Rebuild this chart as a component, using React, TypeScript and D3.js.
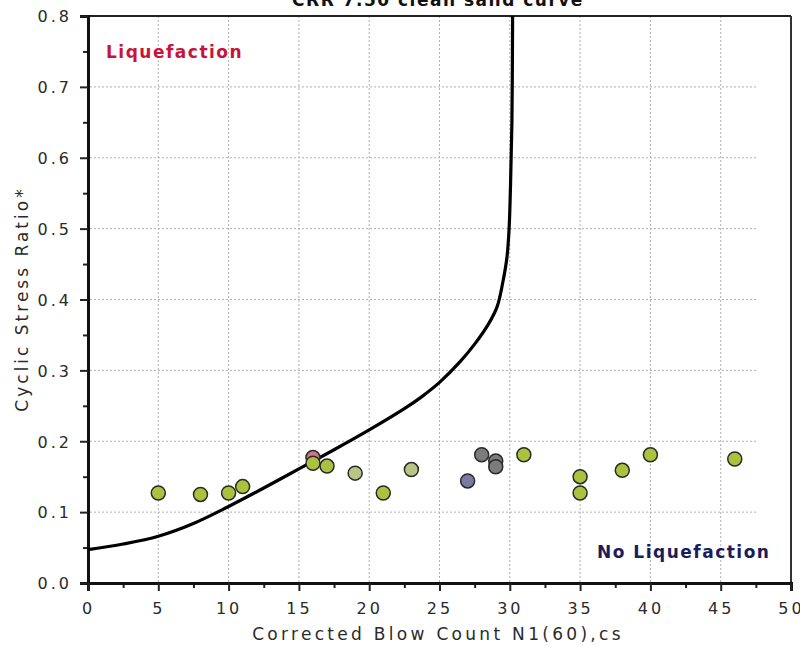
import React, { useEffect, useRef } from 'react';
import * as d3 from 'd3';

// CRR 7.5 clean sand base curve
const curveN = [0, 2.5, 5, 7.5, 10, 12.5, 15, 17.5, 20, 22.5, 23.75, 25, 26.5, 27.5, 28.5, 29.1, 29.5, 29.8, 29.95, 30.05, 30.15, 30.2];
const curveCRR = [0.047, 0.055, 0.066, 0.084, 0.108, 0.134, 0.161, 0.188, 0.216, 0.246, 0.263, 0.283, 0.313, 0.337, 0.366, 0.39, 0.424, 0.46, 0.5, 0.56, 0.65, 0.8];

// site data points
const blowCounts = [5, 8, 10, 11, 16, 16, 17, 19, 21, 23, 27, 28, 29, 29, 31, 35, 35, 38, 40, 46];
const stressRatios = [0.127, 0.125, 0.127, 0.136, 0.177, 0.169, 0.165, 0.155, 0.127, 0.16, 0.144, 0.181, 0.172, 0.164, 0.181, 0.15, 0.127, 0.159, 0.181, 0.175];
const pointGroups = ['sand', 'sand', 'sand', 'sand', 'red', 'sand', 'sand', 'pale', 'sand', 'pale', 'blue', 'gray', 'gray', 'gray', 'sand', 'sand', 'sand', 'sand', 'sand', 'sand'];

const xTicks = [0, 5, 10, 15, 20, 25, 30, 35, 40, 45, 50];
const yTicks = [0, 0.1, 0.2, 0.3, 0.4, 0.5, 0.6, 0.7, 0.8];
const groupColors: Record<string, string> = {
  sand: '#aac23e',
  pale: '#b8c585',
  red: '#d0788a',
  gray: '#7c7c7c',
  blue: '#7a7aa2',
};

const W = 800;
const H = 646;

export default function App() {
  const svgRef = useRef<SVGSVGElement>(null);

  useEffect(() => {
    if (!svgRef.current) return;
    const svg = d3.select(svgRef.current);
    svg.selectAll('*').remove();

    const left = 88, right = 791, top = 16, bottom = 583;
    const x = d3.scaleLinear().domain([0, 50]).range([left, right]);
    const y = d3.scaleLinear().domain([0, 0.8]).range([bottom, top]);

    const font = 'DejaVu Sans, Verdana, sans-serif';

    // grid
    const grid = svg.append('g').attr('stroke', '#b0b0b0').attr('stroke-width', 1).attr('stroke-dasharray', '2,2');
    grid.selectAll('line.v')
      .data(xTicks.slice(1, -1))
      .join('line')
      .attr('class', 'v')
      .attr('x1', d => x(d)).attr('x2', d => x(d))
      .attr('y1', top).attr('y2', bottom);
    grid.selectAll('line.h')
      .data(yTicks.slice(1, -1))
      .join('line')
      .attr('class', 'h')
      .attr('x1', left + 2).attr('x2', right - 33)
      .attr('y1', d => y(d)).attr('y2', d => y(d));

    // frame
    svg.append('line').attr('x1', left).attr('x2', right).attr('y1', top).attr('y2', top)
      .attr('stroke', '#222').attr('stroke-width', 2);
    svg.append('line').attr('x1', right).attr('x2', right).attr('y1', top).attr('y2', bottom)
      .attr('stroke', '#333').attr('stroke-width', 2);

    // y axis
    const yAxis = svg.append('g').attr('transform', `translate(${left},0)`);
    yAxis.call(d3.axisLeft(y).tickValues(d3.range(0.05, 0.8, 0.1)).tickSize(5).tickFormat(() => ''));
    yAxis.selectAll('.tick line').attr('stroke', '#222').attr('stroke-width', 2);
    yAxis.select('.domain').remove();
    const yMajor = svg.append('g').attr('transform', `translate(${left},0)`)
      .call(d3.axisLeft(y).tickValues(yTicks).tickSize(8).tickPadding(8).tickFormat(d3.format('.1f')));
    yMajor.select('.domain').attr('stroke', '#111').attr('stroke-width', 3);
    yMajor.selectAll('.tick line').attr('stroke', '#222').attr('stroke-width', 2);
    yMajor.selectAll('.tick text')
      .attr('font-family', font).attr('font-size', 16).attr('letter-spacing', 3)
      .attr('fill', '#2a2a2a').attr('dy', '0.36em');

    // x axis
    const xAxis = svg.append('g').attr('transform', `translate(0,${bottom})`);
    xAxis.call(d3.axisBottom(x).tickValues(d3.range(2.5, 50, 5)).tickSize(5).tickFormat(() => ''));
    xAxis.selectAll('.tick line').attr('stroke', '#222').attr('stroke-width', 2);
    xAxis.select('.domain').remove();
    const xMajor = svg.append('g').attr('transform', `translate(0,${bottom})`)
      .call(d3.axisBottom(x).tickValues(xTicks).tickSize(8).tickPadding(12).tickFormat(d3.format('d')));
    xMajor.select('.domain').attr('stroke', '#111').attr('stroke-width', 3);
    xMajor.selectAll('.tick line').attr('stroke', '#222').attr('stroke-width', 2);
    xMajor.selectAll('.tick text')
      .attr('font-family', font).attr('font-size', 16).attr('letter-spacing', 3)
      .attr('fill', '#2a2a2a');

    // axis titles
    svg.append('text')
      .attr('x', 438).attr('y', 640)
      .attr('text-anchor', 'middle')
      .attr('font-family', font).attr('font-size', 17).attr('letter-spacing', 3.3)
      .attr('fill', '#2a2a2a')
      .text('Corrected Blow Count N1(60),cs');
    svg.append('text')
      .attr('transform', 'translate(28,299) rotate(-90)')
      .attr('text-anchor', 'middle')
      .attr('font-family', font).attr('font-size', 17).attr('letter-spacing', 3)
      .attr('fill', '#2a2a2a')
      .text('Cyclic Stress Ratio*');

    // title (cut off at the top, as in the source)
    svg.append('text')
      .attr('x', 438).attr('y', 6)
      .attr('text-anchor', 'middle')
      .attr('font-family', font).attr('font-weight', 'bold').attr('font-size', 17).attr('letter-spacing', 1.5)
      .attr('fill', '#111')
      .text('CRR 7.50 clean sand curve');

    // region labels
    svg.append('text')
      .attr('x', 106).attr('y', 58)
      .attr('font-family', font).attr('font-weight', 'bold').attr('font-size', 17).attr('letter-spacing', 1.5)
      .attr('fill', '#c8143c')
      .text('Liquefaction');
    svg.append('text')
      .attr('x', 597).attr('y', 558)
      .attr('font-family', font).attr('font-weight', 'bold').attr('font-size', 17).attr('letter-spacing', 1.5)
      .attr('fill', '#1c1c5c')
      .text('No Liquefaction');

    // base curve
    const line = d3.line<number>()
      .x((d, i) => x(curveN[i]))
      .y(d => y(d))
      .curve(d3.curveCatmullRom.alpha(0.5));
    svg.append('path')
      .attr('d', line(curveCRR))
      .attr('fill', 'none')
      .attr('stroke', '#000')
      .attr('stroke-width', 3.2);

    // data points
    svg.append('g').selectAll('circle')
      .data(blowCounts)
      .join('circle')
      .attr('cx', d => x(d))
      .attr('cy', (d, i) => y(stressRatios[i]))
      .attr('r', 7)
      .attr('fill', (d, i) => groupColors[pointGroups[i]])
      .attr('stroke', '#2a2a2a')
      .attr('stroke-width', 1.5);
  }, []);

  return (
    <svg
      ref={svgRef}
      width={W}
      height={H}
      style={{ position: 'absolute', left: 0, top: 0, background: '#fff' }}
    />
  );
}
